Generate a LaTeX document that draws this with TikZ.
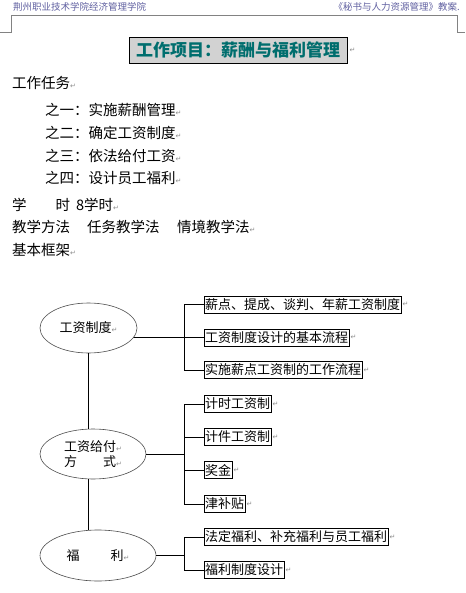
\documentclass[tikz,border=0pt]{standalone}
\usepackage{fontspec}
\setmainfont{Noto Sans CJK SC}
\newfontfamily\dejavu{DejaVu Sans}
\usetikzlibrary{shapes.geometric}

\definecolor{hdrblue}{RGB}{96,96,160}
\definecolor{hdrgray}{RGB}{130,130,130}
\definecolor{titleteal}{RGB}{0,110,110}
\definecolor{titlegray}{RGB}{210,210,210}
\definecolor{retgray}{RGB}{140,140,140}
\newcommand{\rt}{\textcolor{retgray}{\dejavu\fontsize{7}{7}\selectfont ↵}}

\tikzset{
    body/.style={anchor=west, inner sep=0pt, font=\fontsize{14.5}{14.5}\selectfont},
    hdr/.style={inner sep=0pt, text=hdrblue, font=\fontsize{9.5}{9.5}\selectfont},
    topic/.style={ellipse, draw=black!70, line width=0.6pt, inner sep=0pt, font=\fontsize{13}{15}\selectfont},
    item/.style={draw, line width=0.8pt, anchor=west, inner sep=0.8pt, minimum height=17pt,
        font=\fontsize{13}{13}\selectfont, label={[inner sep=1pt]right:\rt}},
    link/.style={line width=0.8pt},
}

\begin{document}
\begin{tikzpicture}[x=1pt, y=-1pt]
    \useasboundingbox (0,0) rectangle (465,593);

    \node[hdr, anchor=west] (hl) at (13,7) {荆州职业技术学院经济管理学院};
    \node[hdr, anchor=east] (hr) at (460,7) {《秘书与人力资源管理》教案.};
    \draw[hdrgray, line width=0.8pt] (0,32) -- (11,32) -- (11,15) -- (457,15) -- (457,32) -- (465,32);

    \node[draw, line width=0.8pt, fill=titlegray, text=titleteal, minimum width=218pt, minimum height=26pt,
        inner sep=0pt, font=\fontsize{17}{17}\selectfont\bfseries] (title) at (238,50) {工作项目：薪酬与福利管理};
    \node[right=2pt, inner sep=0pt] at (title.east) {\rt};

    \node[body] (t0) at (12,83) {工作任务\rt};
    \node[body] (t1) at (45,110) {之一：实施薪酬管理\rt};
    \node[body] (t2) at (45,133) {之二：确定工资制度\rt};
    \node[body] (t3) at (45,156) {之三：依法给付工资\rt};
    \node[body] (t4) at (45,178) {之四：设计员工福利\rt};
    \node[body] (hrs) at (12,205) {学　　时\hspace{6pt}8学时\rt};
    \node[body] (way) at (12,227) {教学方法\hspace{17pt}任务教学法\hspace{17.5pt}情境教学法\rt};
    \node[body] (frame) at (12,250) {基本框架\rt};

    \node[topic, minimum width=97pt, minimum height=50pt] (e1) at (88.5,328) {工资制度\rt};
    \node[topic, minimum width=106pt, minimum height=50pt, align=left] (e2) at (93,454) {工资给付\rt\\方　　式\rt};
    \node[topic, minimum width=116pt, minimum height=51pt] (e3) at (98,555.5) {福\hspace{31pt}利\rt};

    \node[item] (b11) at (204,304.5) {薪点、提成、谈判、年薪工资制度};
    \node[item] (b12) at (204,337.5) {工资制度设计的基本流程};
    \node[item] (b13) at (204,370) {实施薪点工资制的工作流程};

    \node[item] (b21) at (204,404) {计时工资制};
    \node[item] (b22) at (204,437) {计件工资制};
    \node[item] (b23) at (204,470) {奖金};
    \node[item] (b24) at (204,504) {津补贴};

    \node[item] (b31) at (204,537) {法定福利、补充福利与员工福利};
    \node[item] (b32) at (204,570) {福利制度设计};

    \coordinate (k2) at (184,454);
    \coordinate (k3) at (184,555.5);

    \draw[link] (e1.south) -- (e1.south |- e2.north);
    \draw[link] (e1.south |- e2.south) -- (e1.south |- e3.north);

    \draw[link] (e1.-12) -- (b12.west);
    \draw[link] (b11.west) -- ++(-20,0) |- (b13.west);

    \draw[link] (e2.east) -- (k2);
    \draw[link] (b21.west) -- ++(-20,0) |- (b24.west);
    \draw[link] (b22.west) -- ++(-20,0);
    \draw[link] (b23.west) -- ++(-20,0);

    \draw[link] (e3.east) -- (k3);
    \draw[link] (b31.west) -- ++(-20,0) |- (b32.west);
\end{tikzpicture}
\end{document}
